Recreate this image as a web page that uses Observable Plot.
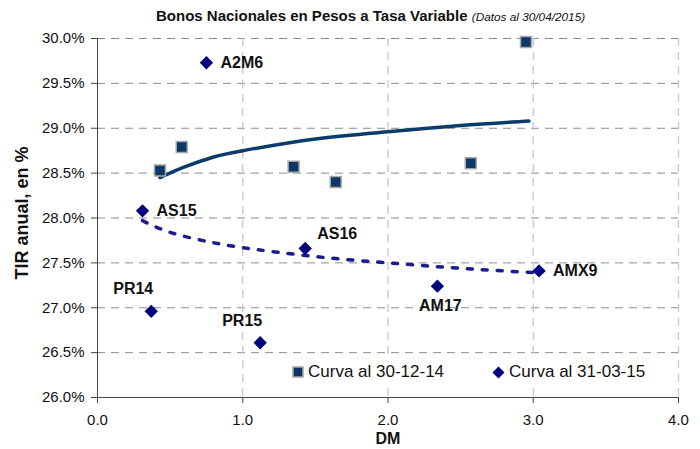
<!DOCTYPE html>
<html><head><meta charset="utf-8">
<script src="https://cdn.jsdelivr.net/npm/d3@7"></script>
<script src="https://cdn.jsdelivr.net/npm/@observablehq/plot@0.6"></script>
<style>
body{margin:0;background:#fff;font-family:"Liberation Sans",Arial,sans-serif}
#wrap{position:relative;width:700px;height:449px}
#title{position:absolute;top:7px;left:156px;font-size:15px;font-weight:bold;white-space:nowrap;color:#111}
#title i{font-weight:normal;font-size:11.8px}
#legend{position:absolute;left:292px;top:359px;height:26px;width:368px;background:#fff;display:flex;align-items:center;font-size:17px;white-space:nowrap;color:#111}
.sw{display:inline-block;margin-right:4px}
</style></head>
<body>
<div id="wrap">
<div id="title">Bonos Nacionales en Pesos a Tasa Variable <i>(Datos al 30/04/2015)</i></div>
<div id="chart"></div>
<div id="legend">
<svg class="sw" width="12" height="12"><rect x="1" y="1" width="10" height="10" fill="#0a3868" stroke="#a8a8a8" stroke-width="1.5"/></svg><span>Curva al 30-12-14</span>
<span style="display:inline-block;width:48px"></span>
<svg class="sw" width="13" height="13"><polygon points="6.5,0.5 12.5,6.5 6.5,12.5 0.5,6.5" fill="#000080"/></svg><span>Curva al 31-03-15</span>
</div>
</div>
<script>
// Series: Curva al 30-12-14 (squares)
const decDM  = [0.43, 0.58, 1.35, 1.64, 2.57, 2.95];
const decTIR = [28.53, 28.79, 28.57, 28.40, 28.61, 29.96];
// Series: Curva al 31-03-15 (diamonds)
const marNames = ["AS15", "A2M6", "PR14", "PR15", "AS16", "AM17", "AMX9"];
const marDM    = [0.31, 0.75, 0.37, 1.12, 1.43, 2.34, 3.04];
const marTIR   = [28.08, 29.73, 26.96, 26.61, 27.66, 27.24, 27.41];
// Trend curves
const decTrendDM  = [0.43, 0.6, 0.8, 1.0, 1.5, 2.0, 2.5, 2.97];
const decTrendTIR = [28.45, 28.57, 28.68, 28.75, 28.88, 28.96, 29.03, 29.08];
const marTrendDM  = [0.31, 0.5, 0.75, 1.0, 1.5, 2.0, 2.5, 3.02];
const marTrendTIR = [27.97, 27.84, 27.74, 27.67, 27.57, 27.50, 27.44, 27.39];
// Axis ticks
const xTicks = [0, 1, 2, 3, 4];
const yTicks = [26, 26.5, 27, 27.5, 28, 28.5, 29, 29.5, 30];

const dec = decDM.map((x, i) => ({x, y: decTIR[i]}));
const mar = marDM.map((x, i) => ({x, y: marTIR[i], name: marNames[i]}));
const decTrend = decTrendDM.map((x, i) => ({x, y: decTrendTIR[i]}));
const marTrend = marTrendDM.map((x, i) => ({x, y: marTrendTIR[i]}));

const placement = {AS15: "right", A2M6: "right", AMX9: "right", AS16: "upright", PR14: "above", PR15: "above", AM17: "below"};
const lab = {fontWeight: "bold", fontSize: 16, fill: "#111"};

const plot = Plot.plot({
  width: 700, height: 449,
  marginLeft: 97, marginRight: 22, marginTop: 38, marginBottom: 52,
  style: {fontFamily: "Liberation Sans, Arial, sans-serif", fontSize: "15px", color: "#111", background: "transparent"},
  x: {domain: [0, 4], label: null},
  y: {domain: [26, 30], label: null},
  marks: [
    Plot.gridY(yTicks.slice(1), {stroke: "#8c8c8c", strokeOpacity: 1, strokeDasharray: "8,6"}),
    Plot.gridX(xTicks.slice(1), {stroke: "#c8c8c8", strokeOpacity: 1, strokeWidth: 1.3, strokeDasharray: "8,6"}),
    Plot.ruleX([0], {stroke: "#444"}),
    Plot.ruleY([26], {stroke: "#444"}),
    Plot.axisY(yTicks, {tickSize: 6, tickPadding: 7, stroke: "#444", tickFormat: d => d.toFixed(1) + "%", label: null}),
    Plot.axisX(xTicks, {tickSize: 6, tickPadding: 11, stroke: "#444", tickFormat: d => d.toFixed(1), label: null}),
    Plot.line(decTrend, {x: "x", y: "y", curve: "natural", stroke: "#0b3b68", strokeWidth: 3.5}),
    Plot.line(marTrend, {x: "x", y: "y", curve: "natural", stroke: "#1c1c8f", strokeWidth: 3.5, strokeDasharray: "5,10"}),
    Plot.dot(dec, {x: "x", y: "y", symbol: "square", r: 6.2, fill: "#0a3868", stroke: "#a8a8a8", strokeWidth: 1.5}),
    Plot.dot(mar, {x: "x", y: "y", symbol: "diamond2", r: 6, fill: "#000080"}),
    Plot.text(mar.filter(d => placement[d.name] === "right"), {x: "x", y: "y", text: "name", textAnchor: "start", dx: 14, ...lab}),
    Plot.text(mar.filter(d => placement[d.name] === "upright"), {x: "x", y: "y", text: "name", textAnchor: "start", dx: 12, dy: -15, ...lab}),
    Plot.text(mar.filter(d => placement[d.name] === "above"), {x: "x", y: "y", text: "name", textAnchor: "middle", dx: -18, dy: -22, ...lab}),
    Plot.text(mar.filter(d => placement[d.name] === "below"), {x: "x", y: "y", text: "name", textAnchor: "middle", dx: 3, dy: 20, ...lab}),
    Plot.text(["DM"], {frameAnchor: "bottom", dy: 46, fontWeight: "bold", fontSize: 16, fill: "#111"}),
    Plot.text(["TIR anual, en %"], {frameAnchor: "left", textAnchor: "middle", dx: -75, dy: -5, rotate: -90, fontWeight: "bold", fontSize: 18, fill: "#111"})
  ]
});
document.getElementById("chart").appendChild(plot);
</script>
</body></html>
